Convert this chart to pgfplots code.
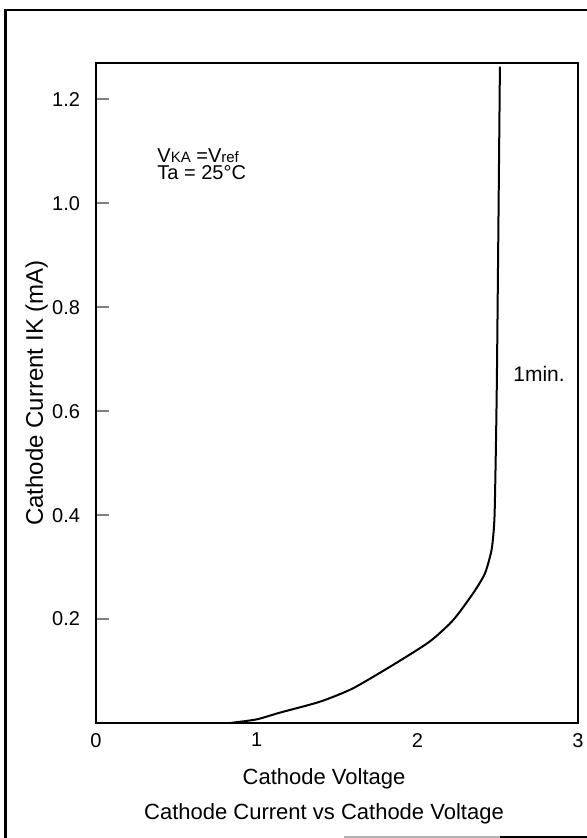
\documentclass[border=0pt]{standalone}
\usepackage{fontspec}
\setmainfont{Liberation Sans}
\usepackage{pgfplots}
\pgfplotsset{compat=1.18}
\begin{document}
\begin{tikzpicture}
\useasboundingbox (0pt,0pt) rectangle (293pt,-419pt);
% outer frame (scanned, partly missing)
\draw[line width=1.4pt] (2.6pt,-419.5pt) -- (2.6pt,-5pt) -- (300pt,-5pt);
\draw[line width=1pt, black!30] (172pt,-418.4pt) -- (250pt,-418.4pt);
\draw[line width=1.2pt] (250pt,-418.4pt) -- (300pt,-418.4pt);
\begin{axis}[
  at={(48pt,-361.5pt)}, anchor=south west,
  width=241pt, height=330pt, scale only axis,
  xmin=0, xmax=3, ymin=0, ymax=1.27,
  axis line style={line width=0.9pt},
  xtick={0,1,2,3}, xticklabels={0,1,2,3},
  ytick={0.2,0.4,0.6,0.8,1.0,1.2},
  yticklabels={0.2,0.4,0.6,0.8,1.0,1.2},
  xtick style={draw=none},
  ytick style={line width=0.9pt},
  major tick length=6.3pt,
  tick align=inside, ytick pos=left, xtick pos=bottom,
  ticklabel style={font=\fontsize{10}{12}\selectfont},
  yticklabel style={xshift=-4.5pt},
  xticklabel style={yshift=-1.5pt},
  xlabel={Cathode Voltage},
  ylabel={Cathode Current IK (mA)},
  xlabel style={font=\fontsize{11}{13}\selectfont, at={(axis description cs:0.473,-0.0925)}, anchor=base},
  ylabel style={font=\fontsize{12}{14}\selectfont, at={(axis description cs:-0.123,0.5)}, anchor=center, rotate=0},
  title={Cathode Current vs Cathode Voltage},
  title style={font=\fontsize{11}{13}\selectfont, at={(axis description cs:0.473,-0.164)}, anchor=base},
  clip=false,
]
\addplot[black, line width=1pt, smooth, tension=0.4] coordinates {
  (0.834,0) (1.0,0.007) (1.145,0.020) (1.394,0.041) (1.601,0.067)
  (1.871,0.116) (2.078,0.157) (2.223,0.198) (2.348,0.250) (2.421,0.288)
  (2.462,0.333) (2.477,0.378) (2.483,0.429) (2.495,0.660) (2.514,1.263)
};
\node[anchor=base west, inner sep=0pt, font=\fontsize{10}{11}\selectfont] at (axis cs:0.38,1.079) {V{\fontsize{7.5}{8}\selectfont KA} =V{\fontsize{7.5}{8}\selectfont ref}};
\node[anchor=base west, inner sep=0pt, font=\fontsize{10}{11}\selectfont] at (axis cs:0.38,1.046) {Ta = 25°C};
\node[anchor=base west, inner sep=0pt, font=\fontsize{10.5}{12}\selectfont] at (axis cs:2.595,0.658) {1min.};
\end{axis}
\end{tikzpicture}
\end{document}
